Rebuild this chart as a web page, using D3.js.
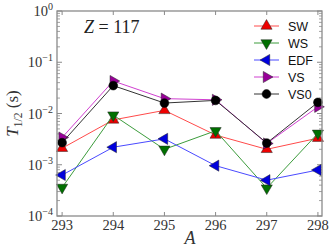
<!DOCTYPE html>
<html>
<head>
<meta charset="utf-8">
<script src="https://cdn.jsdelivr.net/npm/d3@7"></script>
<style>
  body { margin: 0; background: #fff; }
  svg { display: block; }
</style>
</head>
<body>
<div id="chart"></div>
<script>
// mass numbers and half-lives (s) for Z = 117
const massNumbers = [293, 294, 295, 296, 297, 298];
const sw  = [2.1e-3, 7.5e-3, 1.15e-2, 3.8e-3, 2.0e-3, 3.3e-3];
const ws  = [3.6e-4, 9.3e-3, 2.0e-3, 4.6e-3, 3.5e-4, 4.1e-3];
const edf = [6.3e-4, 2.2e-3, 3.2e-3, 9.6e-4, 5.0e-4, 7.9e-4];
const vs  = [3.4e-3, 4.3e-2, 1.95e-2, 1.85e-2, 2.6e-3, 1.35e-2];
const vs0 = [2.7e-3, 3.5e-2, 1.6e-2, 1.8e-2, 2.65e-3, 1.65e-2];
const yTicks = [1e-4, 1e-3, 1e-2, 1e-1, 1];

const series = [
  { name: 'SW',  values: sw,  line: '#ff4a4a', fill: '#ee0000', shape: 'up' },
  { name: 'WS',  values: ws,  line: '#3c9c3c', fill: '#007000', shape: 'down' },
  { name: 'EDF', values: edf, line: '#4a4aff', fill: '#0000dd', shape: 'left' },
  { name: 'VS',  values: vs,  line: '#d040d0', fill: '#990099', shape: 'right' },
  { name: 'VS0', values: vs0, line: '#333333', fill: '#000000', shape: 'circle' }
];

const margin = {top: 11, right: 10, bottom: 32, left: 57};
const width = 332 - margin.left - margin.right;
const height = 248 - margin.top - margin.bottom;

const svg = d3.select('#chart')
  .append('svg')
  .attr('width', 332)
  .attr('height', 248);
const g = svg.append('g')
  .attr('transform', 'translate(' + margin.left + ',' + margin.top + ')');

const x = d3.scaleLinear().domain([292.9, 298.08]).range([0, width]);
const y = d3.scaleLog().domain([1e-4, 1]).range([height, 0]);

const frame = '#8a8a8a';
const serif = "'Liberation Serif', 'DejaVu Serif', serif";

// minor ticks on log axis (left and right, pointing inward)
const minors = [];
for (let e = -4; e < 0; e++) {
  for (let k = 2; k < 10; k++) minors.push(k * Math.pow(10, e));
}
g.append('g').selectAll('line')
  .data(minors)
  .enter().append('line')
  .attr('x1', 0).attr('x2', 3)
  .attr('y1', d => y(d)).attr('y2', d => y(d))
  .attr('stroke', frame).attr('stroke-width', 0.8);
g.append('g').selectAll('line')
  .data(minors)
  .enter().append('line')
  .attr('x1', width - 3).attr('x2', width)
  .attr('y1', d => y(d)).attr('y2', d => y(d))
  .attr('stroke', frame).attr('stroke-width', 0.8);

// major ticks, both sides
g.append('g').selectAll('line')
  .data(yTicks)
  .enter().append('line')
  .attr('x1', 0).attr('x2', 5)
  .attr('y1', d => y(d)).attr('y2', d => y(d))
  .attr('stroke', frame);
g.append('g').selectAll('line')
  .data(yTicks)
  .enter().append('line')
  .attr('x1', width - 5).attr('x2', width)
  .attr('y1', d => y(d)).attr('y2', d => y(d))
  .attr('stroke', frame);
g.append('g').selectAll('line')
  .data(massNumbers)
  .enter().append('line')
  .attr('x1', d => x(d)).attr('x2', d => x(d))
  .attr('y1', height).attr('y2', height - 4)
  .attr('stroke', frame);
g.append('g').selectAll('line')
  .data(massNumbers)
  .enter().append('line')
  .attr('x1', d => x(d)).attr('x2', d => x(d))
  .attr('y1', 0).attr('y2', 4)
  .attr('stroke', frame);

// y tick labels 10^n
const yLab = g.append('g').selectAll('text')
  .data(yTicks)
  .enter().append('text')
  .attr('x', -4)
  .attr('y', d => y(d) + 5)
  .attr('text-anchor', 'end')
  .attr('font-family', serif)
  .attr('font-size', 14.5)
  .attr('fill', '#333');
yLab.append('tspan').text('10');
yLab.append('tspan')
  .attr('dy', -6)
  .attr('font-size', 10)
  .text(d => {
    const e = Math.round(Math.log10(d));
    return e === 0 ? '0' : '\u2212' + (-e);
  });

// x tick labels
g.append('g').selectAll('text')
  .data(massNumbers)
  .enter().append('text')
  .attr('x', d => x(d))
  .attr('y', height + 14)
  .attr('text-anchor', 'middle')
  .attr('font-family', serif)
  .attr('font-size', 14.5)
  .attr('fill', '#333')
  .text(d => d);

// lines and markers
const line = d3.line()
  .x((d, i) => x(massNumbers[i]))
  .y(d => y(d));

const rot = {up: 0, down: 180, left: -90, right: 90};
function marker(sel, s) {
  if (s.shape === 'circle') {
    sel.append('circle').attr('r', 4.4)
      .attr('fill', s.fill).attr('stroke', '#000').attr('stroke-width', 0.5);
  } else {
    sel.append('path')
      .attr('d', d3.symbol().type(d3.symbolTriangle).size(54)())
      .attr('transform', 'rotate(' + rot[s.shape] + ')')
      .attr('fill', s.fill).attr('stroke', '#222').attr('stroke-width', 0.5);
  }
}

series.forEach(s => {
  g.append('path')
    .datum(s.values)
    .attr('fill', 'none')
    .attr('stroke', s.line)
    .attr('stroke-width', 1)
    .attr('d', line);
  g.append('g').selectAll('g')
    .data(s.values)
    .enter().append('g')
    .attr('transform', (d, i) => 'translate(' + x(massNumbers[i]) + ',' + y(d) + ')')
    .each(function() { marker(d3.select(this), s); });
});

// frame
g.append('rect')
  .attr('width', width).attr('height', height)
  .attr('fill', 'none').attr('stroke', frame).attr('stroke-width', 1.3);

// legend
const legend = g.append('g').attr('transform', 'translate(197,15)');
series.forEach((s, i) => {
  const row = legend.append('g').attr('transform', 'translate(0,' + (i * 17) + ')');
  row.append('line')
    .attr('x1', 0).attr('x2', 25)
    .attr('stroke', s.line).attr('stroke-width', 1);
  const m = row.append('g').attr('transform', 'translate(12.5,0)');
  marker(m, s);
  row.append('text')
    .attr('x', 34).attr('y', 4.5)
    .attr('font-family', "'Liberation Sans', Arial, sans-serif")
    .attr('font-size', 12.5)
    .attr('fill', '#111')
    .text(s.name);
});

// annotation
const ann = g.append('text')
  .attr('x', 27).attr('y', 22)
  .attr('font-family', serif)
  .attr('font-size', 18)
  .attr('fill', '#222');
ann.append('tspan').attr('font-style', 'italic').text('Z');
ann.append('tspan').text(' = 117');

// axis labels
const yTitle = svg.append('text')
  .attr('transform', 'translate(18,' + (margin.top + height / 2) + ') rotate(-90)')
  .attr('text-anchor', 'middle')
  .attr('font-family', serif)
  .attr('font-size', 17)
  .attr('fill', '#333');
yTitle.append('tspan').attr('font-style', 'italic').text('T');
yTitle.append('tspan').attr('font-size', 11.5).attr('dy', 4).text('1/2');
yTitle.append('tspan').attr('dy', -4).text(' (s)');

svg.append('text')
  .attr('x', margin.left + x(295.5))
  .attr('y', 244)
  .attr('text-anchor', 'middle')
  .attr('font-family', serif)
  .attr('font-style', 'italic')
  .attr('font-size', 18)
  .attr('fill', '#333')
  .text('A');
</script>
</body>
</html>
